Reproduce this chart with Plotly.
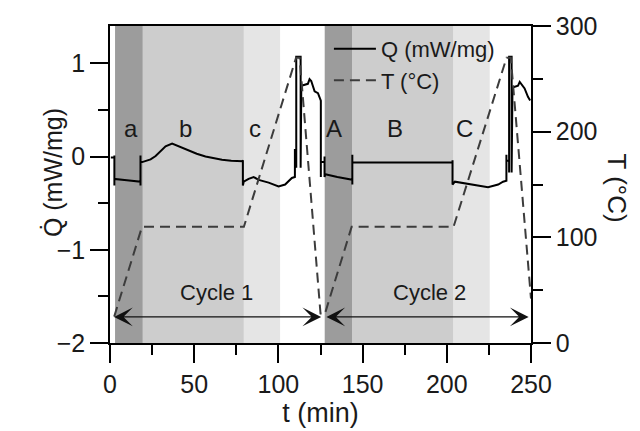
import plotly.graph_objects as go

# ---------------- data ----------------
# heat flow Q (mW/mg) vs time (min): (t, Q) pairs
q_points = [
    (0.5, -0.01), (2.6, -0.01), (2.6, 0.01), (2.6, -0.31), (2.6, -0.24),
    (10.0, -0.255), (18.1, -0.27), (18.1, -0.31), (18.1, 0.01), (18.1, -0.06),
    (19.1, -0.06), (21.0, -0.05), (24.1, -0.03), (27.1, 0.005), (30.0, 0.06),
    (33.0, 0.11), (36.9, 0.14), (40.9, 0.11), (46.8, 0.06), (51.5, 0.03),
    (56.7, 0.0), (61.5, -0.02), (66.5, -0.035), (72.0, -0.045), (78.6, -0.05),
    (78.9, -0.04), (78.9, -0.31), (79.4, -0.27), (82.3, -0.24), (85.3, -0.22),
    (88.3, -0.25), (94.2, -0.28), (100.1, -0.32), (104.0, -0.30), (108.0, -0.23),
    (109.8, -0.22), (109.8, 0.08), (109.8, 0.0), (110.6, 0.0), (110.6, -0.12),
    (110.6, 1.07), (113.2, 1.07), (113.2, -0.12), (113.6, 0.76), (117.5, 0.78),
    (118.5, 0.83), (119.5, 0.81), (120.5, 0.74), (121.5, 0.70), (123.5, 0.68),
    (124.8, 0.60), (125.2, 0.60), (125.2, -0.22), (125.2, -0.06), (127.4, -0.06),
    (127.4, 0.0), (127.4, -0.22), (127.8, -0.19), (135.0, -0.22), (143.5, -0.25),
    (143.9, -0.25), (143.9, 0.02), (143.9, -0.30), (143.9, -0.063), (203.4, -0.063),
    (203.4, -0.04), (203.4, -0.30), (204.8, -0.27), (210.7, -0.29), (218.6, -0.31),
    (224.5, -0.33), (230.5, -0.30), (233.4, -0.27), (235.4, -0.26), (235.4, 0.02),
    (235.4, -0.045), (237.0, -0.045), (237.0, -0.17), (237.0, 1.07), (238.5, 1.07),
    (238.5, -0.17), (239.0, 0.74), (242.3, 0.76), (243.3, 0.80), (244.3, 0.78),
    (246.2, 0.73), (248.2, 0.64), (249.5, 0.60),
]
t_q = [p[0] for p in q_points]
q = [p[1] for p in q_points]

# temperature T (°C) vs time (min)
t_T = [2.5, 19.0, 79.5, 110.5, 112.6, 125.0, 127.5, 143.5, 204.0, 235.5, 238.0, 250.0]
temp = [25, 110, 110, 270, 270, 28, 27, 110, 110, 270, 270, 42]

# shaded phases
phase_start = [3.0, 19.5, 79.5, 127.5, 144.0, 204.0]
phase_end = [19.5, 79.5, 101.0, 144.0, 204.0, 225.5]
phase_label = ["a", "b", "c", "A", "B", "C"]
phase_label_t = [12.2, 44.8, 86.0, 133.3, 169.0, 210.7]
phase_color = ["#9c9c9c", "#cdcdcd", "#e5e5e5", "#9c9c9c", "#cdcdcd", "#e5e5e5"]

# cycles
cycle_label = ["Cycle 1", "Cycle 2"]
cycle_start = [1.5, 127.6]
cycle_end = [125.4, 248.6]
cycle_label_t = [63.5, 190.0]

x_ticks = [0, 50, 100, 150, 200, 250]
q_ticks = [-2, -1, 0, 1]
T_ticks = [0, 100, 200, 300]

FONT = "Liberation Sans, Arial, sans-serif"
TXT = "#1a1a1a"

fig = go.Figure()
fig.add_trace(go.Scatter(x=t_q, y=q, mode="lines", name="Q (mW/mg)",
                         line=dict(color="black", width=2), yaxis="y"))
fig.add_trace(go.Scatter(x=t_T, y=temp, mode="lines", name="T (°C)",
                         line=dict(color="#3c3c3c", width=2, dash="10px,6px"),
                         yaxis="y2"))

for s, e, c in zip(phase_start, phase_end, phase_color):
    fig.add_shape(type="rect", xref="x", yref="paper", x0=s, x1=e, y0=0, y1=1,
                  fillcolor=c, line=dict(width=0), layer="below")

for lab, lt in zip(phase_label, phase_label_t):
    fig.add_annotation(x=lt, y=0.30, xref="x", yref="y", text=lab, showarrow=False,
                       font=dict(size=24, color=TXT, family=FONT))

for lab, s, e, lt in zip(cycle_label, cycle_start, cycle_end, cycle_label_t):
    fig.add_annotation(x=e, y=-1.72, ax=s, ay=-1.72, xref="x", yref="y",
                       axref="x", ayref="y", text="", showarrow=True,
                       arrowhead=3, arrowside="end+start", arrowsize=2.4,
                       arrowwidth=1.3, arrowcolor="#111")
    fig.add_annotation(x=lt, y=-1.46, xref="x", yref="y", text=lab, showarrow=False,
                       font=dict(size=22, color=TXT, family=FONT))

fig.add_annotation(x=1.245, y=0.49, xref="paper", yref="paper", text="T (°C)",
                   textangle=90, showarrow=False,
                   font=dict(size=26, color=TXT, family=FONT))
fig.add_annotation(x=-0.175, y=0.537, xref="paper", yref="paper", text="Q\u0307 (mW/mg)",
                   textangle=-90, showarrow=False,
                   font=dict(size=25, color=TXT, family=FONT))

axis_common = dict(showline=True, linecolor="black", linewidth=1.5, ticks="outside",
                   ticklen=18, tickwidth=1.5, tickcolor="black", showgrid=False,
                   zeroline=False, tickfont=dict(size=25, color=TXT, family=FONT))

fig.update_layout(
    width=640, height=431, margin=dict(l=110, r=109, t=25, b=82),
    paper_bgcolor="white", plot_bgcolor="white",
    font=dict(family=FONT, color=TXT),
    xaxis=dict(range=[0, 250], tickvals=x_ticks, mirror=True,
               minor=dict(dtick=25, ticklen=10, ticks="outside", tickcolor="black", tickwidth=1.5),
               title=dict(text="t (min)", font=dict(size=27, color=TXT, family=FONT), standoff=2),
               **axis_common),
    yaxis=dict(range=[-2, 1.4], tickvals=q_ticks,
               minor=dict(dtick=0.5, ticklen=10, ticks="outside", tickcolor="black", tickwidth=1.5),
               **axis_common),
    yaxis2=dict(range=[0, 300], tickvals=T_ticks, overlaying="y", side="right", anchor="x",
                minor=dict(dtick=50, ticklen=10, ticks="outside", tickcolor="black", tickwidth=1.5),
                **axis_common),
    legend=dict(x=0.52, y=0.994, xanchor="left", yanchor="top", bgcolor="rgba(0,0,0,0)",
                itemwidth=42,
                font=dict(size=22, color=TXT, family=FONT)),
    showlegend=True,
)

fig.write_html("out.html")
